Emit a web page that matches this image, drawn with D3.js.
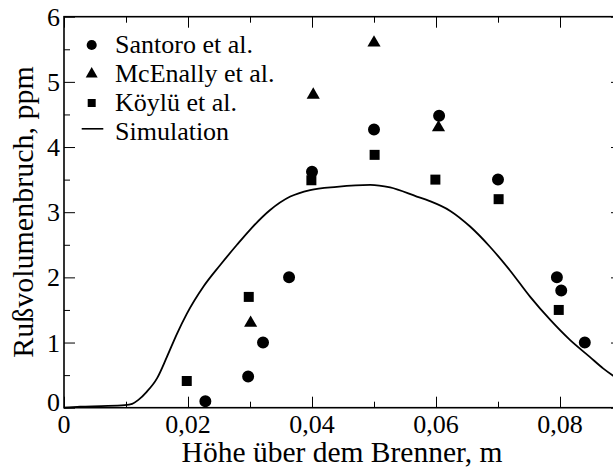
<!DOCTYPE html>
<html>
<head>
<meta charset="utf-8">
<script src="https://cdn.jsdelivr.net/npm/d3@7"></script>
</head>
<body style="margin:0">
<svg id="chart" width="613" height="471"></svg>
<script>
"use strict";

// measured data (x in m, y in ppm)
const santoroX = [0.0228, 0.0297, 0.0321, 0.0363, 0.0400, 0.0500, 0.0605, 0.0700, 0.0795, 0.0802, 0.0840];
const santoroY = [0.10, 0.48, 1.00, 2.00, 3.62, 4.27, 4.48, 3.50, 2.00, 1.80, 1.00];
const mcenallyX = [0.0301, 0.0402, 0.0500, 0.0604];
const mcenallyY = [1.30, 4.80, 5.60, 4.30];
const koyluX = [0.0198, 0.0298, 0.0399, 0.0501, 0.0599, 0.0701, 0.0798];
const koyluY = [0.41, 1.70, 3.49, 3.88, 3.50, 3.20, 1.50];

// simulation curve
const simX = [0, 0.0026, 0.0060, 0.0098, 0.0110, 0.0120, 0.0133, 0.0150, 0.0166, 0.0182, 0.0198, 0.0225, 0.0252, 0.0279, 0.0300, 0.0332, 0.0365, 0.0397, 0.0440, 0.0494, 0.0526, 0.0569, 0.0590, 0.0623, 0.0655, 0.0687, 0.0719, 0.0752, 0.0784, 0.0816, 0.0848, 0.0870, 0.0900];
const simY = [0, 0.015, 0.025, 0.04, 0.06, 0.12, 0.24, 0.45, 0.78, 1.13, 1.44, 1.86, 2.19, 2.50, 2.73, 3.03, 3.24, 3.34, 3.39, 3.42, 3.38, 3.24, 3.17, 3.02, 2.78, 2.47, 2.11, 1.70, 1.35, 1.04, 0.78, 0.60, 0.40];

const xTicks = [0, 0.02, 0.04, 0.06, 0.08];
const xMinor = [0.01, 0.03, 0.05, 0.07, 0.09];
const yTicks = [0, 1, 2, 3, 4, 5, 6];
const yMinor = [0.5, 1.5, 2.5, 3.5, 4.5, 5.5];

const legendNames = ["Santoro et al.", "McEnally et al.", "Köylü et al.", "Simulation"];

const margin = {left: 64, top: 16.7, right: 622, bottom: 407.7};

const svg = d3.select("#chart");

const scaleX = d3.scaleLinear().domain([0, 0.09]).range([margin.left, margin.right]);
const scaleY = d3.scaleLinear().domain([0, 6]).range([margin.bottom, margin.top]);

const commaFmt = d3.formatLocale({decimal: ",", thousands: ".", grouping: [3]}).format(".2f");

function addText(x, y, size, str) {
    return svg.append("text")
        .attr("x", x)
        .attr("y", y)
        .style("font-family", "Times New Roman")
        .attr("font-size", size)
        .text(str);
}

function ticksOnly(g) {
    g.select(".domain").remove();
    g.selectAll(".tick text").remove();
    g.selectAll(".tick line").attr("stroke", "#000").attr("stroke-width", 1);
}

// tick marks on all four sides, pointing inward
[[d3.axisBottom, margin.bottom, true], [d3.axisTop, margin.top, true],
 [d3.axisLeft, margin.left, false], [d3.axisRight, margin.right, false]].forEach(function(a) {
    let horiz = a[2];
    let scale = horiz ? scaleX : scaleY;
    let major = horiz ? xTicks : yTicks;
    let minor = horiz ? xMinor : yMinor;
    let pos = horiz ? `translate(0, ${a[1]})` : `translate(${a[1]}, 0)`;
    svg.append("g").attr("transform", pos)
        .call(a[0](scale).tickValues(major).tickSize(-11))
        .call(ticksOnly);
    svg.append("g").attr("transform", pos)
        .call(a[0](scale).tickValues(minor).tickSize(-6))
        .call(ticksOnly);
});

// tick labels
xTicks.forEach(function(d) {
    addText(scaleX(d), margin.bottom + 25, 26, d === 0 ? "0" : commaFmt(d))
        .attr("text-anchor", "middle");
});
yTicks.forEach(function(d) {
    addText(margin.left - 4, scaleY(d) + (d === 0 ? 3 : 9), 26, String(d))
        .attr("text-anchor", "end");
});

// frame
svg.append("rect")
    .attr("x", margin.left)
    .attr("y", margin.top)
    .attr("width", margin.right - margin.left)
    .attr("height", margin.bottom - margin.top)
    .attr("fill", "none")
    .attr("stroke", "#000")
    .attr("stroke-width", 1.6);

// simulation line
svg.append("path")
    .datum(d3.zip(simX, simY))
    .attr("fill", "none")
    .attr("stroke", "#000")
    .attr("stroke-width", 1.8)
    .attr("d", d3.line().x(d => scaleX(d[0])).y(d => scaleY(d[1])).curve(d3.curveMonotoneX));

function drawPoints(xs, ys, type, size) {
    svg.append("g")
        .selectAll("path")
        .data(d3.zip(xs, ys))
        .join("path")
        .attr("transform", d => `translate(${scaleX(d[0])}, ${scaleY(d[1])})`)
        .attr("d", d3.symbol().type(type).size(size))
        .attr("fill", "#000");
}

drawPoints(santoroX, santoroY, d3.symbolCircle, 113);
drawPoints(mcenallyX, mcenallyY, d3.symbolTriangle, 75);
drawPoints(koyluX, koyluY, d3.symbolSquare, 100);

// legend
const legendSymbols = [d3.symbolCircle, d3.symbolTriangle, d3.symbolSquare, null];
const legendSizes = [80, 62, 64, 0];
legendNames.forEach(function(name, i) {
    let baseline = 53.3 + i * 29;
    if (legendSymbols[i]) {
        svg.append("path")
            .attr("transform", `translate(91.7, ${baseline - 8.3})`)
            .attr("d", d3.symbol().type(legendSymbols[i]).size(legendSizes[i]))
            .attr("fill", "#000");
    } else {
        svg.append("line")
            .attr("x1", 81.7).attr("x2", 103.3)
            .attr("y1", baseline - 11.5).attr("y2", baseline - 11.5)
            .attr("stroke", "#000")
            .attr("stroke-width", 1.6);
    }
    addText(115, baseline, 26, name);
});

// axis titles
addText(342, 461.5, 29.5, "Höhe über dem Brenner, m")
    .attr("text-anchor", "middle");

addText(0, 0, 30, "Rußvolumenbruch, ppm")
    .attr("transform", "translate(33, 212) rotate(-90)")
    .attr("text-anchor", "middle");

// re-apply the serif face once the system font is ready
if (document.fonts && document.fonts.load) {
    document.fonts.load("26px 'Liberation Serif'").then(function() {
        svg.selectAll("text").style("font-family", "'Liberation Serif', 'Times New Roman', serif");
    });
}
</script>
</body>
</html>
